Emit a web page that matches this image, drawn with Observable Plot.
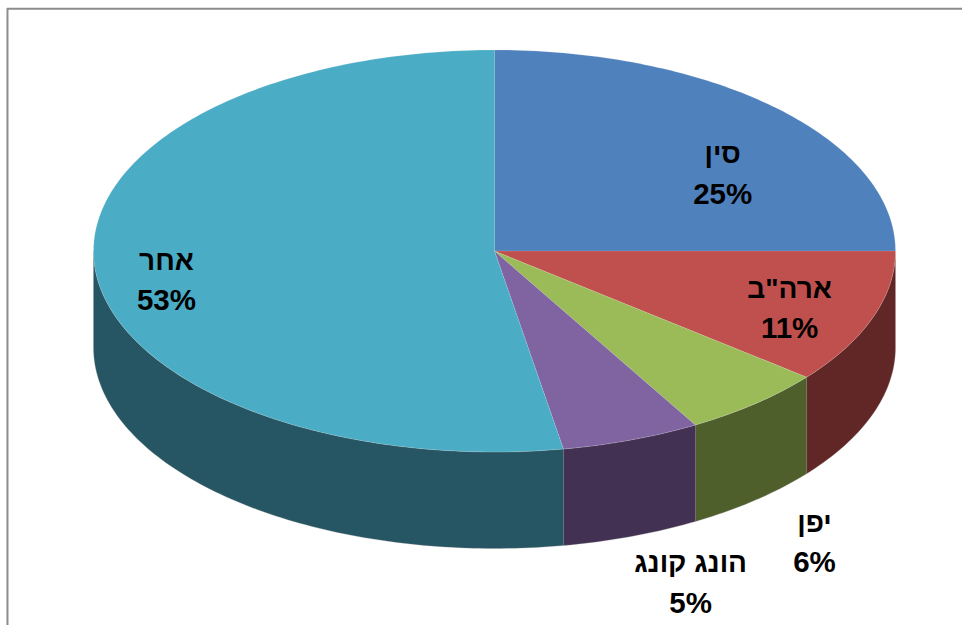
<!DOCTYPE html>
<html lang="he">
<head>
<meta charset="utf-8">
<style>
html,body{margin:0;padding:0;background:#fff}
svg{display:block}
</style>
<script src="https://cdn.jsdelivr.net/npm/d3@7"></script>
<script src="https://cdn.jsdelivr.net/npm/@observablehq/plot@0.6"></script>
</head>
<body>
<div id="chart"></div>
<script>
const names = ["סין", "ארה\"ב", "יפן", "הונג קונג", "אחר"];
const shares = [25, 10.8, 5.85, 5.6, 52.75];
const percentLabels = ["25%", "11%", "6%", "5%", "53%"];
const topColors = ["#4F81BD", "#C0504D", "#9BBB59", "#8064A2", "#4BACC6"];
const wallColors = ["#2A4A70", "#612726", "#4F5F2C", "#423153", "#265664"];
const labelX = [0.569, 0.736, 0.798, 0.489, -0.818];
const labelY = [0.382, -0.288, -1.452, -1.652, -0.149];
const wallDepth = 0.48;

const total = d3.sum(shares);
const ends = d3.cumsum(shares).map(v => v / total);
const starts = [0, ...ends.slice(0, -1)];
const rim = f => ({x: Math.sin(2 * Math.PI * f), y: Math.cos(2 * Math.PI * f)});
const fractions = (a, b) => {
  const n = Math.max(2, Math.ceil((b - a) * 360));
  return d3.range(n + 1).map(i => a + (b - a) * i / n);
};

const topPoints = names.flatMap((name, i) => [
  {name, x: 0, y: 0},
  ...fractions(starts[i], ends[i]).map(f => ({name, ...rim(f)}))
]);

const wallPoints = names.flatMap((name, i) => {
  const a = Math.max(starts[i], 0.25), b = Math.min(ends[i], 0.75);
  if (b <= a) return [];
  const arc = fractions(a, b).map(rim);
  return [
    ...arc.map(p => ({name, ...p})),
    ...arc.reverse().map(p => ({name, x: p.x, y: p.y - wallDepth}))
  ];
});

const labels = names.map((name, i) => ({
  name,
  percent: percentLabels[i],
  x: labelX[i],
  y: labelY[i]
}));

const color = d3.scaleOrdinal(names, topColors);
const wallColor = d3.scaleOrdinal(names, wallColors);
const labelFont = "'Liberation Sans', Arial, sans-serif";

const chart = Plot.plot({
  width: 962,
  height: 625,
  margin: 0,
  style: {background: "#fff", overflow: "hidden"},
  x: {axis: null, domain: [-1, 1], range: [93, 895]},
  y: {axis: null, domain: [1, -1], range: [49.5, 451.5]},
  marks: [
    Plot.ruleX([-1.2145], {y1: 1.205, y2: -1.9, stroke: "#8c8c8c", strokeWidth: 2}),
    Plot.ruleY([1.205], {x1: -1.2145, x2: 1.17, stroke: "#8c8c8c", strokeWidth: 2}),
    Plot.line(wallPoints, {
      x: "x", y: "y", z: "name",
      fill: d => wallColor(d.name),
      stroke: "#8f8f8f", strokeWidth: 0.5, strokeOpacity: 0.55,
      strokeLinejoin: "round"
    }),
    Plot.line(topPoints, {
      x: "x", y: "y", z: "name",
      fill: d => color(d.name),
      stroke: "#ffffff", strokeWidth: 0.5, strokeOpacity: 0.3,
      strokeLinejoin: "round"
    }),
    Plot.text(labels, {
      x: "x", y: "y", text: "name", dy: -20,
      fontFamily: labelFont, fontSize: 28, fontWeight: "bold",
      fill: "#000", textAnchor: "middle"
    }),
    Plot.text(labels, {
      x: "x", y: "y", text: "percent", dy: 20,
      fontFamily: labelFont, fontSize: 29.5, fontWeight: "bold",
      fill: "#000", textAnchor: "middle"
    })
  ]
});
document.getElementById("chart").append(chart);
</script>
</body>
</html>
